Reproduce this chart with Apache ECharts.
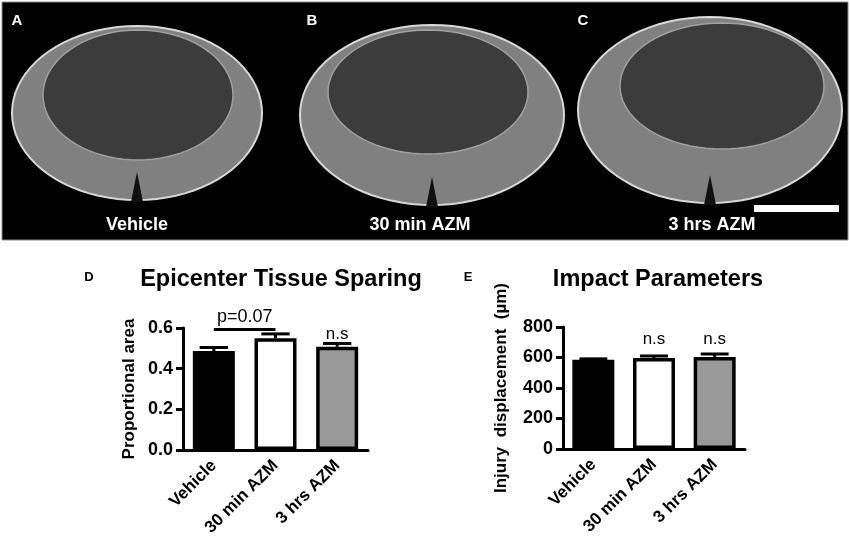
<!DOCTYPE html>
<html><head><meta charset="utf-8">
<script src="https://cdn.jsdelivr.net/npm/echarts@6/dist/echarts.min.js"></script>
<style>html,body{margin:0;padding:0;background:#fff}#c{width:850px;height:547px}</style>
</head><body><div id="c"></div>
<script>
const categories = ['Vehicle', '30 min AZM', '3 hrs AZM'];
const sparingMean = [0.487, 0.550, 0.508];
const sparingErr = [0.017, 0.021, 0.016];
const sparingNote = ['', '', 'n.s'];
const sparingTicks = ['0.0', '0.2', '0.4', '0.6'];
const impactMean = [585, 597, 604];
const impactErr = [6, 13, 19];
const impactNote = ['', 'n.s', 'n.s'];
const barColors = ['#000000', '#ffffff', '#999999'];
const panelLabels = ['Vehicle', '30 min AZM', '3 hrs AZM'];

const FONT = 'Liberation Sans, Arial, sans-serif';
const chart = echarts.init(document.getElementById('c'));

function ellipsePts(cx, cy, rx, ry, n) {
  const pts = [];
  for (let i = 0; i < n; i++) {
    const t = i / n * Math.PI * 2;
    pts.push([cx + rx * Math.cos(t), cy + ry * Math.sin(t)]);
  }
  return pts;
}
function tissue(o) {
  return [
    {type:'polygon', shape:{points:ellipsePts(o.cx,o.cy,o.rx,o.ry,80)}, style:{fill:'#808080', stroke:'#d8d8d8', lineWidth:2}},
    {type:'polygon', shape:{points:ellipsePts(o.icx,o.icy,o.irx,o.iry,80)}, style:{fill:'#3c3c3c', stroke:'#a0a0a0', lineWidth:1.5}},
    {type:'polygon', shape:{points:[[o.cx-6,o.cy+o.ry+2],[o.cx+6,o.cy+o.ry+2],[o.cx,o.cy+o.ry-28]]}, style:{fill:'#111'}}
  ];
}
const panels = [
  {cx:137, cy:113, rx:125, ry:87, icx:138, icy:95, irx:95, iry:65},
  {cx:432, cy:115, rx:132, ry:90, icx:428, icy:92, irx:100, iry:62},
  {cx:710, cy:110, rx:132, ry:93, icx:722, icy:86, irx:102, iry:63}
];
let graphics = [{type:'rect', shape:{x:2, y:2, width:846, height:238}, style:{fill:'#000', stroke:'#888', lineWidth:1}}];
panels.forEach(p => { graphics = graphics.concat(tissue(p)); });
const letterPos = [[17,21],[312,21],[583,21]];
['A','B','C'].forEach((l,i)=>graphics.push({type:'text', x:letterPos[i][0], y:letterPos[i][1], style:{text:l, fill:'#fff', font:'bold 15px '+FONT, textAlign:'center', textVerticalAlign:'middle'}}));
const labelX = [137, 420, 712];
panelLabels.forEach((l,i)=>graphics.push({type:'text', x:labelX[i], y:225, style:{text:l, fill:'#fff', font:'bold 18px '+FONT, textAlign:'center', textVerticalAlign:'middle'}}));
graphics.push({type:'rect', shape:{x:754, y:205, width:85, height:7}, style:{fill:'#fff'}});
graphics.push({type:'text', x:89, y:277, style:{text:'D', fill:'#000', font:'bold 13px '+FONT, textAlign:'center', textVerticalAlign:'middle'}});
graphics.push({type:'text', x:468, y:277, style:{text:'E', fill:'#000', font:'bold 13px '+FONT, textAlign:'center', textVerticalAlign:'middle'}});

function errSeries(idx, mean, err, note, noteVal) {
  return {
    type:'custom', xAxisIndex:idx, yAxisIndex:idx, z:5,
    data: mean.map((m,i)=>[i, m, err[i]]),
    encode:{x:0, y:1},
    renderItem:(params, api)=>{
      const i = api.value(0), m = api.value(1), e = api.value(2);
      const top = api.coord([i, m]);
      const cap = api.coord([i, m + e]);
      const hw = api.size([1, 0])[0] * 0.23;
      const ls = {stroke:'#000', lineWidth:3};
      const ch = [
        {type:'line', shape:{x1:top[0], y1:top[1], x2:cap[0], y2:cap[1]}, style:ls},
        {type:'line', shape:{x1:cap[0]-hw, y1:cap[1], x2:cap[0]+hw, y2:cap[1]}, style:ls}
      ];
      if (note[i]) {
        const np = api.coord([i, noteVal]);
        ch.push({type:'text', x:np[0], y:np[1], style:{text:note[i], fill:'#000', font:'17px '+FONT, textAlign:'center', textVerticalAlign:'middle'}});
      }
      return {type:'group', children:ch};
    }
  };
}

function axisX(idx) {
  return {type:'category', gridIndex:idx, data:categories,
    axisLine:{lineStyle:{color:'#000', width:3}},
    axisTick:{alignWithLabel:true, length:7, lineStyle:{color:'#000', width:3}},
    axisLabel:{rotate:45, margin:13, color:'#000', fontWeight:'bold', fontSize:17, fontFamily:FONT, interval:0}};
}
function axisY(idx, max, interval, name, gap, fmt) {
  return {type:'value', gridIndex:idx, min:0, max:max, interval:interval, name:name, nameLocation:'middle', nameGap:gap,
    nameTextStyle:{color:'#000', fontWeight:'bold', fontSize:17, fontFamily:FONT},
    axisLine:{show:true, lineStyle:{color:'#000', width:3}},
    axisTick:{show:true, length:7, lineStyle:{color:'#000', width:3}},
    splitLine:{show:false},
    axisLabel:{margin:10, color:'#000', fontWeight:'bold', fontSize:18, fontFamily:FONT, formatter:fmt}};
}

chart.setOption({
  animation:false,
  graphic:graphics,
  title:[
    {text:'Epicenter Tissue Sparing', left:276, top:263, textAlign:'center', textStyle:{fontSize:23.5, fontWeight:'bold', fontFamily:FONT, color:'#000'}},
    {text:'Impact Parameters', left:653, top:263, textAlign:'center', textStyle:{fontSize:23.5, fontWeight:'bold', fontFamily:FONT, color:'#000'}}
  ],
  grid:[
    {left:183, width:185, top:328, height:122},
    {left:563, width:182, top:327, height:122}
  ],
  xAxis:[axisX(0), axisX(1)],
  yAxis:[
    axisY(0, 0.6, 0.2, 'Proportional area', 45, (v,i)=>sparingTicks[i]),
    axisY(1, 800, 200, 'Injury  displacement  (µm)', 53, null)
  ],
  series:[
    {type:'bar', xAxisIndex:0, yAxisIndex:0, barWidth:42,
      data: sparingMean.map((v,i)=>({value:v, itemStyle:{color:barColors[i], borderColor:'#000', borderWidth:3.5}})),
      markLine:{symbol:'none', silent:true,
        lineStyle:{color:'#000', width:3, type:'solid'},
        label:{show:true, position:'middle', formatter:'p=0.07', color:'#000', fontSize:18, fontFamily:FONT, distance:3},
        data:[[{coord:['Vehicle', 0.595]}, {coord:['30 min AZM', 0.595]}]]}
    },
    errSeries(0, sparingMean, sparingErr, sparingNote, 0.568),
    {type:'bar', xAxisIndex:1, yAxisIndex:1, barWidth:42,
      data: impactMean.map((v,i)=>({value:v, itemStyle:{color:barColors[i], borderColor:'#000', borderWidth:3.5}}))
    },
    errSeries(1, impactMean, impactErr, impactNote, 722)
  ]
});
</script></body></html>
